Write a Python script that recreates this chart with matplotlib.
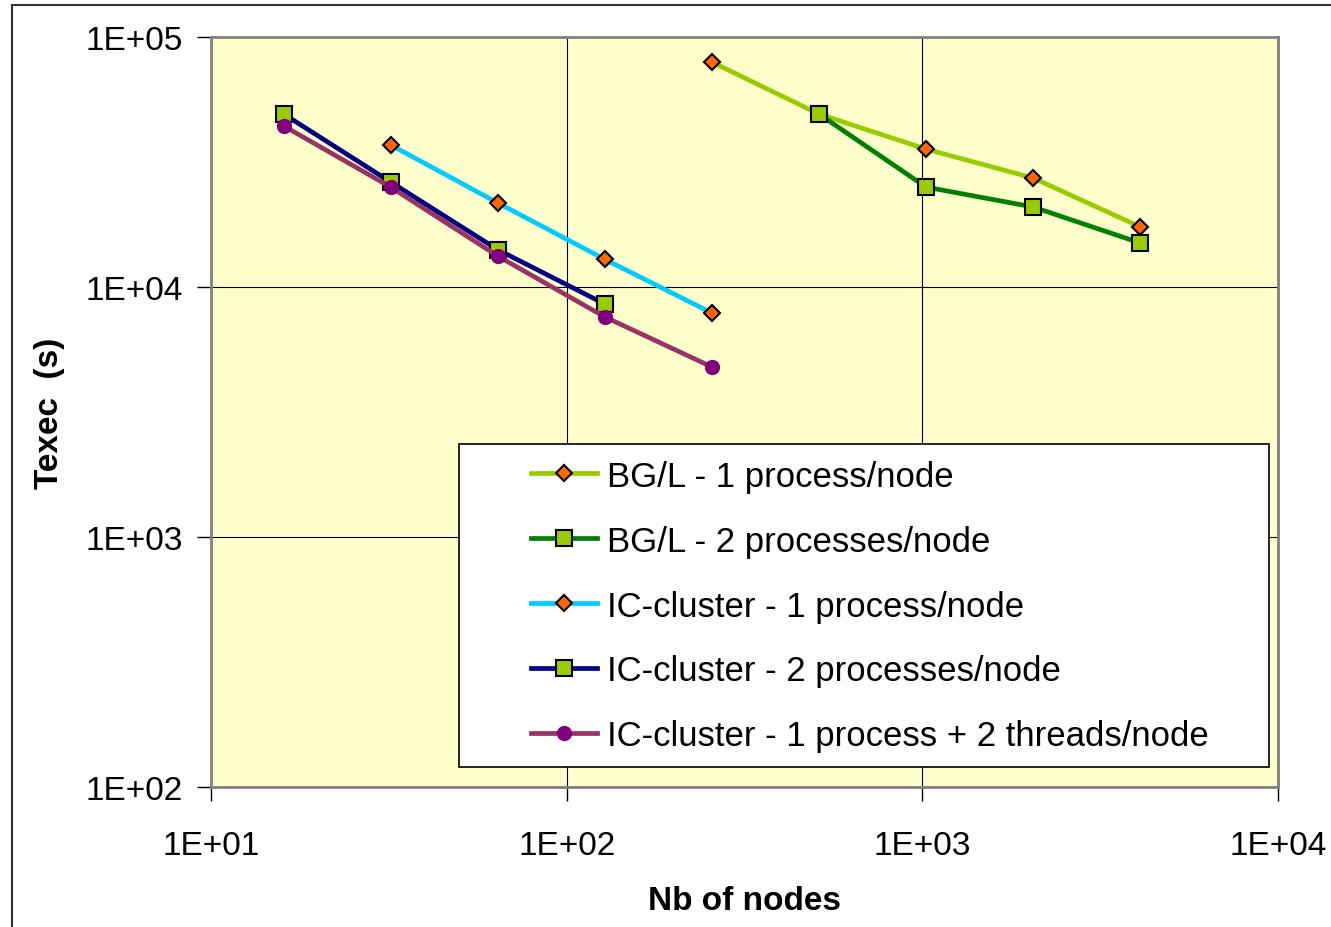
import matplotlib
matplotlib.use("Agg")
import matplotlib.pyplot as plt
from matplotlib.lines import Line2D
from matplotlib.patches import Rectangle

plt.rcParams['font.family'] = ['Liberation Sans', 'DejaVu Sans']

# Data
nodes_bgl_1 = [256, 512, 1024, 2048, 4096]
texec_bgl_1 = [79400, 49200, 35600, 27300, 17400]

nodes_bgl_2 = [512, 1024, 2048, 4096]
texec_bgl_2 = [49200, 25100, 20900, 15000]

nodes_ic_1 = [32, 64, 128, 256]
texec_ic_1 = [37000, 21700, 12900, 7870]

nodes_ic_2 = [16, 32, 64, 128]
texec_ic_2 = [49200, 26300, 14100, 8550]

nodes_ic_thr = [16, 32, 64, 128, 256]
texec_ic_thr = [44100, 25100, 13300, 7590, 4790]

labels = ["BG/L - 1 process/node",
          "BG/L - 2 processes/node",
          "IC-cluster - 1 process/node",
          "IC-cluster - 2 processes/node",
          "IC-cluster - 1 process + 2 threads/node"]

W, H = 1331, 928
fig = plt.figure(figsize=(W / 100, H / 100), dpi=100)
ax = fig.add_axes([211 / W, 1 - 788 / H, (1278 - 211) / W, (788 - 38) / H])
ax.set_facecolor('#FFFFCC')

lw = 3.4
ax.plot(nodes_bgl_1, texec_bgl_1, color='#99CC00', lw=lw, marker='D', ms=8,
        mfc='#FF6600', mec='black', mew=1.5, label=labels[0], zorder=3)
ax.plot(nodes_bgl_2, texec_bgl_2, color='#008000', lw=lw, marker='s', ms=11,
        mfc='#99CC00', mec='black', mew=1.5, label=labels[1], zorder=3)
ax.plot(nodes_ic_1, texec_ic_1, color='#00CCFF', lw=lw, marker='D', ms=8,
        mfc='#FF6600', mec='black', mew=1.5, label=labels[2], zorder=3)
ax.plot(nodes_ic_2, texec_ic_2, color='#000080', lw=lw, marker='s', ms=11,
        mfc='#99CC00', mec='black', mew=1.5, label=labels[3], zorder=3)
ax.plot(nodes_ic_thr, texec_ic_thr, color='#993366', lw=lw, marker='o', ms=10,
        mfc='#800080', mec='#800080', mew=1, label=labels[4], zorder=3)

ax.set_xscale('log')
ax.set_yscale('log')
ax.set_xlim(10, 10000)
ax.set_ylim(100, 100000)
ax.set_xticks([10, 100, 1000, 10000])
ax.set_xticklabels(["1E+01", "1E+02", "1E+03", "1E+04"])
ax.set_yticks([100, 1000, 10000, 100000])
ax.set_yticklabels(["1E+02", "1E+03", "1E+04", "1E+05"])
ax.minorticks_off()
ax.grid(True, which='major', color='black', lw=0.8, zorder=1)
ax.set_axisbelow(True)

ax.tick_params(axis='both', which='major', length=10, width=1, color='black',
               labelsize=24, direction='out')
ax.tick_params(axis='x', pad=21)
ax.tick_params(axis='y', pad=10)
for s in ax.spines.values():
    s.set_color('#808080')
    s.set_linewidth(2)

ax.set_xlabel("Nb of nodes", fontsize=24, fontweight='bold', labelpad=17)
ax.set_ylabel("Texec  (s)", fontsize=24, fontweight='bold', labelpad=15)

# legend frame drawn as a rectangle
x0, x1 = (459 - 211) / 1067, (1269 - 211) / 1067
y0, y1 = (788 - 768) / 750, (788 - 445) / 750
ax.add_patch(Rectangle((x0, y0), x1 - x0, y1 - y0, transform=ax.transAxes,
                       facecolor='white', edgecolor='black', lw=1.2, zorder=4))

leg = ax.legend(loc='center left',
                bbox_to_anchor=((531 - 211) / 1067, (788 - 607) / 750),
                fontsize=25, frameon=False,
                labelspacing=0.92, handlelength=1.9, handletextpad=0.3,
                borderpad=0, borderaxespad=0)
leg.set_zorder(5)

# figure border (left and top)
fig.add_artist(Line2D([12 / W, 12 / W], [0, 1 - 6 / H], transform=fig.transFigure,
                      color='#333333', lw=1.5))
fig.add_artist(Line2D([12 / W, 1], [1 - 6 / H, 1 - 6 / H], transform=fig.transFigure,
                      color='#333333', lw=1.5))

fig.savefig("out.png", dpi=100)
